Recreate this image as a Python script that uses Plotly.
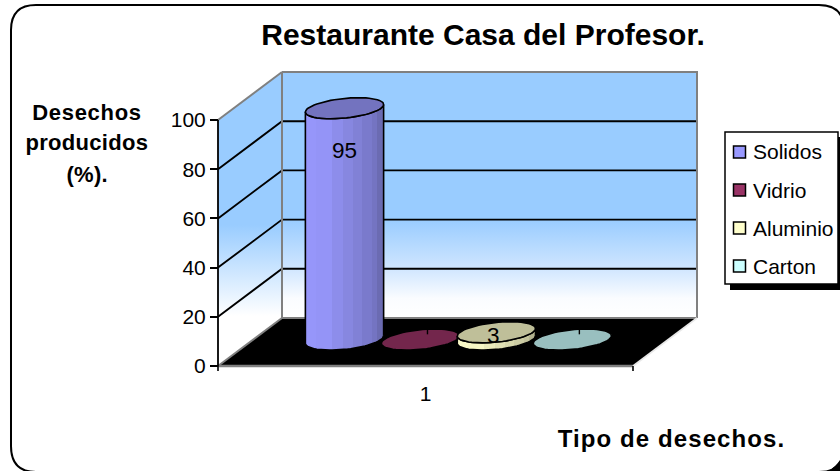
import math
import plotly.graph_objects as go

# ---- data ----
series_names = ["Solidos", "Vidrio", "Aluminio", "Carton"]
series_values = [95, 0, 3, 0]
series_labels = ["95", "", "3", ""]
series_colors = ["#9999FF", "#993366", "#FFFFCC", "#CCFFFF"]
category_labels = ["1"]
value_ticks = [0, 20, 40, 60, 80, 100]

title_text = "Restaurante Casa del Profesor."
y_title_lines = ["Desechos", "producidos", "(%)."]
x_title_text = "Tipo de desechos."

# ---- page / projection geometry ----
W, H = 840, 471
PX_X0, PX_Y0 = 218, 366      # pixel of (x=0, value=0)
PX_PER_X, PX_PER_V = 415, 2.46
DEPTH_DX, DEPTH_DY = 64 / PX_PER_X, 48 / PX_PER_V
xr = [-PX_X0 / PX_PER_X, (W - PX_X0) / PX_PER_X]
yr = [(PX_Y0 - H) / PX_PER_V, PX_Y0 / PX_PER_V]
FONT = "Liberation Sans, Arial, sans-serif"
HEIGHT_INSET = 0.99          # the 3-D bars stop just short of their nominal height


def proj(x, v, d):
    """Oblique projection of (x, value, depth) on the 2-D axes."""
    return x + d * DEPTH_DX, v + d * DEPTH_DY


def poly(points):
    xs, ys = zip(*[proj(*p) for p in points])
    return list(xs), list(ys)


def shade(color, f):
    r, g, b = [int(color[i:i + 2], 16) for i in (1, 3, 5)]
    return "#%02X%02X%02X" % (round(r * f), round(g * f), round(b * f))


def px(x):
    return x / W


def py(y):
    return 1 - y / H


fig = go.Figure()


def line(points, color, width, **kw):
    xs, ys = poly(points)
    fig.add_trace(go.Scatter(x=xs, y=ys, mode="lines", line=dict(color=color, width=width),
                             hoverinfo="skip", showlegend=False, **kw))


vmax = value_ticks[-1]

# back wall
xs, ys = poly([(0, 0, 1), (1, 0, 1), (1, vmax, 1), (0, vmax, 1), (0, 0, 1)])
fig.add_trace(go.Scatter(x=xs, y=ys, mode="lines", fill="toself", line=dict(width=0),
                         fillgradient=dict(type="vertical", colorscale=[[0, "#FFFFFF"], [0.08, "#FAFCFF"], [0.2, "#D0E6FF"], [0.4, "#99CCFF"], [1, "#99CCFF"]]),
                         hoverinfo="skip", showlegend=False))
# side wall
xs, ys = poly([(0, 0, 0), (0, 0, 1), (0, vmax, 1), (0, vmax, 0), (0, 0, 0)])
fig.add_trace(go.Scatter(x=xs, y=ys, mode="lines", fill="toself", line=dict(width=0),
                         fillgradient=dict(type="vertical", colorscale=[[0, "#FFFFFF"], [0.17, "#FFFFFF"], [0.48, "#99CCFF"], [1, "#99CCFF"]]),
                         hoverinfo="skip", showlegend=False))
# grid
for t in value_ticks[1:-1]:
    line([(0, t, 0), (0, t, 1), (1, t, 1)], "#000000", 1.9)
line([(0, vmax, 0), (0, vmax, 1)], "#808080", 2)
line([(0, vmax, 1), (1, vmax, 1), (1, 0, 1)], "#808080", 2)
line([(0, 0, 1), (0, vmax, 1)], "#808080", 2)

# floor
xs, ys = poly([(0, 0, 0), (1, 0, 0), (1, 0, 1), (0, 0, 1), (0, 0, 0)])
fig.add_trace(go.Scatter(x=xs, y=ys, mode="lines", fill="toself", fillcolor="#000000",
                         line=dict(width=0), hoverinfo="skip", showlegend=False))
line([(0, 0, 1), (1, 0, 1)], "#808080", 2)
line([(0, 0, 0), (0, 0, 1)], "#808080", 2)
line([(0, 0, 0), (1, 0, 0)], "#808080", 2.5)
line([(1, 0, 0), (1, 0, 1)], "#E8E8E8", 1.6)
# front axis line + short category ticks
line([(0, 0, 0), (0, vmax, 0)], "#000000", 1.8)
line([(0, 0, 0), (0, -2, 0)], "#000000", 1.6)
line([(1, 0, 0), (1, -2, 0)], "#000000", 1.6)

# cylinders
C0, STEP = 0.22, 0.183
RX, RD, DC = 36.5 / PX_PER_X, 0.22, 0.55
FACET_STOPS = [0, 0.14, 0.34, 0.48, 0.61, 0.73, 0.85, 0.92, 1]
FACET_SHADE = [0.98, 0.97, 0.92, 0.88, 0.84, 0.80, 0.76, 0.70]
T0 = math.atan2(DEPTH_DX * RD, RX)


def ring(cx, v, a0, a1, n=40):
    pts = []
    for i in range(n + 1):
        t = a0 + (a1 - a0) * i / n
        pts.append((cx + RX * math.cos(t), v, DC + RD * math.sin(t)))
    return pts


for i, (name, val, lab, col) in enumerate(zip(series_names, series_values, series_labels, series_colors)):
    cx = C0 + STEP * i
    h = val * HEIGHT_INSET
    if val > 0:
        # front half of the silhouette: from right tangent through the front to the left tangent
        base = ring(cx, 0, T0, T0 - math.pi)
        top = ring(cx, h, T0 - math.pi, T0)
        xs, ys = poly(base + top + base[:1])
        cs = []
        for k, f in enumerate(FACET_SHADE):
            c = shade(col, f)
            cs += [[FACET_STOPS[k], c], [FACET_STOPS[k + 1], c]]
        fig.add_trace(go.Scatter(x=xs, y=ys, mode="lines", fill="toself",
                                 line=dict(color="#000000", width=1.6),
                                 fillgradient=dict(type="horizontal", colorscale=cs),
                                 hoverinfo="skip", showlegend=False))
    xs, ys = poly(ring(cx, h, 0, 2 * math.pi, 60))
    fig.add_trace(go.Scatter(x=xs, y=ys, mode="lines", fill="toself", fillcolor=shade(col, 0.75),
                             line=dict(color="#000000", width=1.6),
                             hoverinfo="skip", showlegend=False))
    if val == 0:
        # small marker of the empty label on the flat discs
        line([(cx, 0, DC + RD * 0.5), (cx, 2, DC + RD * 0.5)], "#000000", 1.4)

# texts in data space
annotations = []
for i, (val, lab) in enumerate(zip(series_values, series_labels)):
    if lab:
        ax, ay = proj(C0 + STEP * i, val * HEIGHT_INSET, DC)
        annotations.append(dict(x=ax, y=ay, xref="x", yref="y", text=lab, showarrow=False,
                                yshift=-42 if val > 50 else -3, xshift=0 if val > 50 else -3,
                                font=dict(size=22.5, color="#000000", family=FONT)))

for txt, yy in zip(y_title_lines, [113, 143, 175]):
    annotations.append(dict(x=px(86.5), y=py(yy), xref="paper", yref="paper", text="<b>%s</b>" % txt,
                            showarrow=False, xanchor="center", yanchor="middle",
                            font=dict(size=22, color="#000000", family=FONT)))
annotations.append(dict(x=px(671), y=py(438), xref="paper", yref="paper", text="<b>%s</b>" % x_title_text,
                        showarrow=False, xanchor="center", yanchor="middle",
                        font=dict(size=24, color="#000000", family=FONT)))

# frame and legend
shapes = [
    dict(type="path", xref="paper", yref="paper", layer="above",
         path="M %f %f L %f %f L %f %f Q %f %f %f %f Z" % (px(840), py(460), px(840), py(472), px(826), py(472),
                                                            px(835), py(468), px(840), py(460)),
         fillcolor="#000000", line=dict(width=0)),
    dict(type="path", xref="paper", yref="paper", layer="above",
         path=("M %f %f L %f %f Q %f %f %f %f L %f %f Q %f %f %f %f L %f %f Q %f %f %f %f L %f %f Q %f %f %f %f Z"
               % (px(36), py(5), px(819), py(5), px(844), py(5), px(844), py(30), px(844), py(447),
                  px(844), py(472), px(819), py(472), px(36), py(472), px(11), py(472), px(11), py(446),
                  px(11), py(30), px(11), py(5), px(36), py(5))),
         line=dict(color="#000000", width=2)),
    dict(type="rect", xref="paper", yref="paper", x0=px(730), x1=px(843), y0=py(290), y1=py(137),
         fillcolor="#000000", line=dict(width=0), layer="above"),
    dict(type="rect", xref="paper", yref="paper", x0=px(725), x1=px(838), y0=py(284), y1=py(132),
         fillcolor="#FFFFFF", line=dict(color="#000000", width=1.5), layer="above"),
]
for name, col, cy in zip(series_names, series_colors, [152, 190, 228, 266]):
    shapes.append(dict(type="rect", xref="paper", yref="paper", x0=px(733.5), x1=px(745.5), y0=py(cy + 6), y1=py(cy - 6),
                       fillcolor=col, line=dict(color="#000000", width=1.5), layer="above"))
    annotations.append(dict(x=px(753), y=py(cy), xref="paper", yref="paper", text=name, showarrow=False,
                            xanchor="left", yanchor="middle", xshift=-2,
                            font=dict(size=21, color="#000000", family=FONT)))

fig.update_layout(
    width=W, height=H, margin=dict(l=0, r=0, t=0, b=0), autosize=False,
    paper_bgcolor="#FFFFFF", plot_bgcolor="#FFFFFF", showlegend=False,
    title=dict(text="<b>%s</b>" % title_text, x=px(483), y=py(34), xref="paper", yref="paper",
               xanchor="center", yanchor="middle", font=dict(size=30, color="#000000", family=FONT)),
    xaxis=dict(range=xr, domain=[0, 1], showgrid=False, zeroline=False, showline=False,
               anchor="free", position=py(PX_Y0), tickvals=[0.5], ticktext=category_labels,
               ticks="outside", ticklen=9, tickcolor="rgba(0,0,0,0)", fixedrange=True,
               tickfont=dict(size=21, color="#000000", family=FONT)),
    yaxis=dict(range=yr, domain=[0, 1], showgrid=False, zeroline=False, showline=False,
               anchor="free", position=px(PX_X0), side="left", tickvals=value_ticks,
               ticks="outside", ticklen=8, tickwidth=1.8, tickcolor="#000000", fixedrange=True,
               tickfont=dict(size=21, color="#000000", family=FONT)),
    shapes=shapes, annotations=annotations,
)
spaced = {x_title_text: "1.1px", "Desechos": "0.7px", "producidos": "0.3px", "(%).": "0.3px"}
post = ("document.body.style.margin='0';document.body.style.overflow='hidden';"
        "var sp=%r;document.querySelectorAll('.annotation-text').forEach(function(t){"
        "var s=sp[t.textContent];if(s){t.style.letterSpacing=s;}});" % spaced)
fig.write_html("out.html", config=dict(displayModeBar=False), post_script=post)
